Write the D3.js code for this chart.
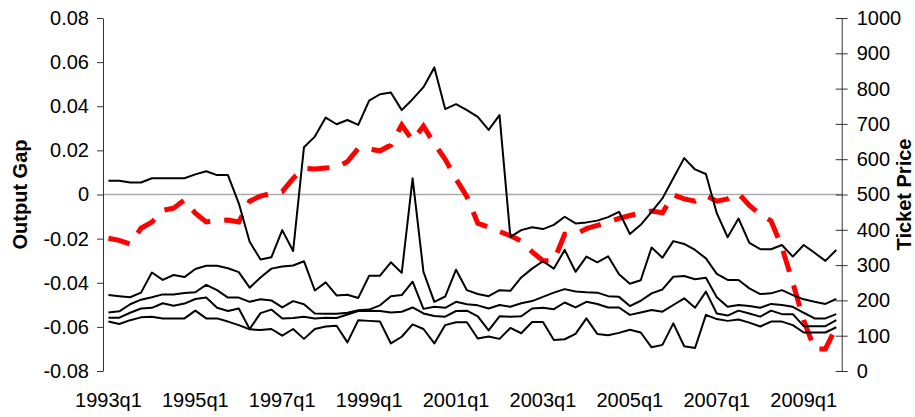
<!DOCTYPE html>
<html>
<head>
<meta charset="utf-8">
<script src="https://cdn.jsdelivr.net/npm/d3@7"></script>
<style>
  html, body { margin: 0; padding: 0; background: #fff; }
  svg { display: block; }
  text { font-family: "Liberation Sans", Arial, sans-serif; fill: #000; }
</style>
</head>
<body>
<div id="chart"></div>
<script>
// ---- data ----
const years = [1993,1994,1995,1996,1997,1998,1999,2000,2001,2002,2003,2004,2005,2006,2007,2008,2009];
const quarterNames = ["q1","q2","q3","q4"];
const categories = years.flatMap(y => quarterNames.map(q => y + q));
const xTickLabels = ["1993q1","1995q1","1997q1","1999q1","2001q1","2003q1","2005q1","2007q1","2009q1"];
const leftTickValues = [-0.08,-0.06,-0.04,-0.02,0,0.02,0.04,0.06,0.08];
const leftTickLabels = ["-0.08","-0.06","-0.04","-0.02","0","0.02","0.04","0.06","0.08"];
const rightTickValues = [0,100,200,300,400,500,600,700,800,900,1000];

// Output gap (left axis), red dashed
const outputGap = [
  -0.0198,-0.0208,-0.0225,-0.0153,-0.0125,-0.0072,-0.0062,-0.0025,-0.0085,-0.0124,
  -0.0119,-0.0116,-0.0125,-0.0030,-0.0007,0.0005,0.0013,0.0073,0.0119,0.0116,
  0.0120,0.0123,0.0149,0.0209,0.0206,0.0198,0.0224,0.0315,0.0245,0.0310,
  0.0230,0.0160,0.0070,-0.0010,-0.0130,-0.0148,-0.0168,-0.0187,-0.0210,-0.0260,
  -0.0300,-0.0300,-0.0180,-0.0180,-0.0155,-0.0140,-0.0125,-0.0108,-0.0095,-0.0084,
  -0.0075,-0.0083,-0.0002,-0.0020,-0.0030,-0.0005,-0.0030,-0.0020,0.0005,-0.0050,
  -0.0090,-0.0120,-0.0240,-0.0400,-0.0570,-0.0700,-0.0700,-0.0600
];

// Ticket prices (right axis), black lines
const price1 = [
  539,539,534,534,546,546,546,546,557,566,555,555,475,366,316,322,399,340,634,664,
  718,699,711,697,766,784,789,739,770,804,860,742,756,739,720,683,725,380,399,407,
  402,414,437,418,421,426,436,451,388,414,451,489,546,603,571,558,447,379,432,363,
  345,345,357,324,357,335,312,343
];
const price2 = [
  215,212,209,222,279,258,272,266,289,298,298,291,280,236,265,290,296,299,311,228,
  251,214,216,207,270,270,308,278,546,281,196,211,287,229,218,212,229,227,265,290,
  311,290,343,281,324,308,325,274,247,257,350,321,368,360,343,319,275,258,258,234,
  218,220,229,215,203,196,190,204
];
const price3 = [
  166,169,189,202,209,217,217,221,223,244,229,208,208,196,203,200,180,198,189,163,
  162,162,165,172,174,186,212,215,253,176,182,179,196,189,186,177,187,182,192,198,
  210,222,232,225,223,222,212,210,184,199,220,231,267,269,260,264,209,182,187,184,
  179,190,187,182,165,149,149,161
];
const price4 = [
  151,151,165,177,179,192,185,191,204,208,179,170,177,119,164,174,149,150,154,149,
  151,150,160,170,171,170,166,168,180,163,156,154,170,171,155,115,155,154,155,177,
  179,175,194,180,196,190,180,180,159,166,173,168,187,206,179,225,163,157,171,163,
  154,171,161,161,127,127,127,144
];
const price5 = [
  140,133,144,152,154,149,149,149,171,149,149,140,130,118,116,119,100,119,91,119,
  126,128,81,144,142,140,78,97,132,119,78,130,138,138,92,98,91,122,107,139,
  139,88,90,105,149,105,101,108,117,109,67,74,135,70,65,159,147,142,146,137,
  126,140,140,130,109,109,109,124
];
const priceSeries = [price1, price2, price3, price4, price5];

// ---- layout ----
const W = 915, H = 417;
const plotLeft = 103, plotRight = 841.7, plotTop = 18, plotBottom = 371;

const svg = d3.select("#chart").append("svg").attr("width", W).attr("height", H);

const x = d3.scaleBand().domain(categories).range([plotLeft, plotRight]).paddingInner(0).paddingOuter(0);
const xc = d => x(d) + x.bandwidth() / 2;
const yL = d3.scaleLinear().domain([-0.08, 0.08]).range([plotBottom, plotTop]);
const yR = d3.scaleLinear().domain([0, 1000]).range([plotBottom, plotTop]);

// zero line (category axis crossing)
svg.append("line")
  .attr("x1", plotLeft).attr("x2", plotRight)
  .attr("y1", yL(0)).attr("y2", yL(0))
  .attr("stroke", "#ababab").attr("stroke-width", 1.5);

// left axis
const leftAxis = d3.axisLeft(yL).tickValues(leftTickValues)
  .tickFormat((d, i) => leftTickLabels[i]).tickSizeOuter(0).tickSizeInner(6).tickPadding(8);
const gL = svg.append("g").attr("transform", `translate(${plotLeft},0)`).call(leftAxis);
gL.select(".domain").attr("stroke", "#333");
gL.selectAll(".tick line").attr("stroke", "#333");
gL.selectAll(".tick text").attr("font-size", 20).attr("font-family", '"Liberation Sans", Arial, sans-serif').attr("fill", "#000");

// right axis (cross ticks)
const rightAxis = d3.axisRight(yR).tickValues(rightTickValues)
  .tickFormat(d3.format("d")).tickSizeOuter(0).tickSizeInner(6).tickPadding(9);
const gR = svg.append("g").attr("transform", `translate(${plotRight},0)`).call(rightAxis);
gR.select(".domain").attr("stroke", "#333");
gR.selectAll(".tick line").attr("stroke", "#333").attr("x1", -6).attr("x2", 6);
gR.selectAll(".tick text").attr("font-size", 20).attr("font-family", '"Liberation Sans", Arial, sans-serif').attr("fill", "#000");

// bottom category labels
const bottomAxis = d3.axisBottom(x).tickValues(xTickLabels).tickSize(0).tickPadding(0);
const gB = svg.append("g").attr("transform", `translate(0,${plotBottom + 22})`).call(bottomAxis);
gB.select(".domain").remove();
gB.selectAll(".tick text").attr("font-size", 20).attr("font-family", '"Liberation Sans", Arial, sans-serif').attr("fill", "#000").attr("dy", "0.71em");

// axis titles
svg.append("text")
  .attr("transform", `translate(27,${yL(0)}) rotate(-90)`)
  .attr("text-anchor", "middle").attr("font-size", 20).attr("font-weight", "bold")
  .text("Output Gap");
svg.append("text")
  .attr("transform", `translate(911,${yL(0)}) rotate(-90)`)
  .attr("text-anchor", "middle").attr("font-size", 20).attr("font-weight", "bold")
  .text("Ticket Price");

// output gap red dashed line
const lineL = d3.line().x((d, i) => xc(categories[i])).y(d => yL(d));
svg.append("path")
  .datum(outputGap)
  .attr("d", lineL)
  .attr("fill", "none").attr("stroke", "#ff0000").attr("stroke-width", 5)
  .attr("stroke-dasharray", "22,14").attr("stroke-linecap", "butt");

// ticket price black lines
const lineR = d3.line().x((d, i) => xc(categories[i])).y(d => yR(d));
svg.selectAll(".price").data(priceSeries).enter().append("path")
  .attr("class", "price")
  .attr("d", lineR)
  .attr("fill", "none").attr("stroke", "#000").attr("stroke-width", 2)
  .attr("stroke-linejoin", "round");
</script>
</body>
</html>
